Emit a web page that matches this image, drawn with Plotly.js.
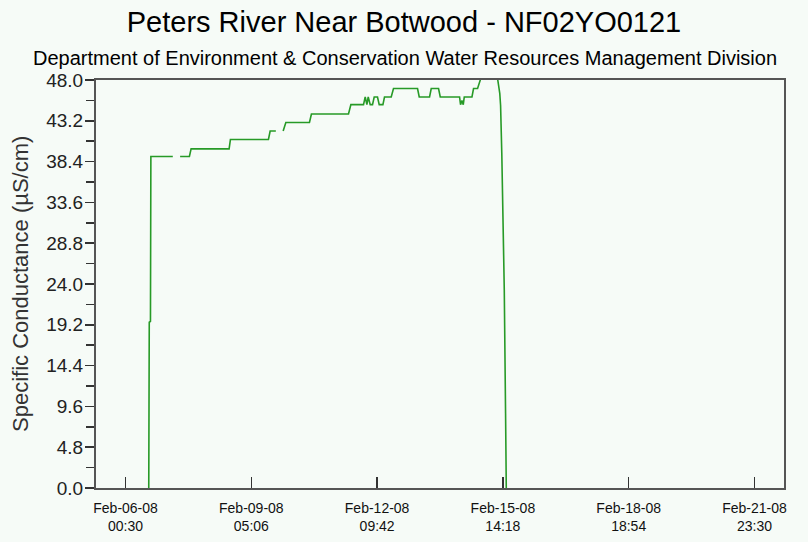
<!DOCTYPE html>
<html>
<head>
<meta charset="utf-8">
<script src="https://cdn.plot.ly/plotly-3.0.1.min.js"></script>
<style>
html,body{margin:0;padding:0;background:#f6fbf7;}
#chart{width:808px;height:542px;}
</style>
</head>
<body>
<div id="chart"></div>
<script>
// Sample times and specific conductance readings (µS/cm); null marks missing data
var times = [
  "2008-02-06 14:38","2008-02-06 14:56","2008-02-06 15:40","2008-02-06 15:55",
  "2008-02-07 05:16","2008-02-07 07:00","2008-02-07 09:43","2008-02-07 15:23",
  "2008-02-07 16:25","2008-02-08 15:34","2008-02-08 16:22","2008-02-09 15:31",
  "2008-02-09 16:34","2008-02-09 20:02","2008-02-09 22:00","2008-02-10 00:29",
  "2008-02-10 02:07","2008-02-10 16:30","2008-02-10 17:42","2008-02-11 16:16",
  "2008-02-11 17:44","2008-02-12 01:25","2008-02-12 02:27","2008-02-12 03:29",
  "2008-02-12 04:17","2008-02-12 05:30","2008-02-12 06:54","2008-02-12 07:56",
  "2008-02-12 09:56","2008-02-12 10:59","2008-02-12 13:14","2008-02-12 14:12",
  "2008-02-12 18:17","2008-02-12 19:41","2008-02-13 10:19","2008-02-13 11:21",
  "2008-02-13 17:38","2008-02-13 18:40","2008-02-13 23:07","2008-02-14 00:09",
  "2008-02-14 11:55","2008-02-14 12:31","2008-02-14 13:22","2008-02-14 14:10",
  "2008-02-14 14:47","2008-02-14 19:28","2008-02-14 20:26","2008-02-14 22:53",
  "2008-02-15 00:32","2008-02-15 02:58","2008-02-15 06:38","2008-02-15 10:17",
  "2008-02-15 11:11","2008-02-15 12:25","2008-02-15 12:54","2008-02-15 13:38",
  "2008-02-15 14:22","2008-02-15 15:09","2008-02-15 15:56","2008-02-15 16:22"
];
var conductance = [
  0, 19.5, 19.6, 39.0,
  39.0, null, 39.0, 39.0,
  39.9, 39.9, 41.0, 41.0,
  42.0, 42.0, null, 42.0,
  43.0, 43.0, 44.0, 44.0,
  45.1, 45.1, 46.0, 45.1,
  46.0, 45.1, 45.1, 46.0,
  46.0, 45.1, 45.1, 46.0,
  46.0, 47.0, 47.0, 46.0,
  46.0, 47.0, 47.0, 46.0,
  46.0, 45.1, 45.6, 45.1,
  46.0, 46.0, 47.0, 47.0,
  48.0, 49.0, 49.5, 48.8,
  48.0, 46.4, 45.0, 39.4,
  31.9, 23.3, 8.8, 0
];
var xTickVals = ["2008-02-06 00:30","2008-02-09 05:06","2008-02-12 09:42","2008-02-15 14:18","2008-02-18 18:54","2008-02-21 23:30"];
var xTickText = ["Feb-06-08<br>00:30","Feb-09-08<br>05:06","Feb-12-08<br>09:42","Feb-15-08<br>14:18","Feb-18-08<br>18:54","Feb-21-08<br>23:30"];
var yTickVals = [0, 4.8, 9.6, 14.4, 19.2, 24.0, 28.8, 33.6, 38.4, 43.2, 48.0];
var yTickText = ["0.0","4.8","9.6","14.4","19.2","24.0","28.8","33.6","38.4","43.2","48.0"];
var xRange = ["2008-02-05 06:30","2008-02-22 17:30"];
var yRange = [0, 48];
var titleText = "Peters River Near Botwood - NF02YO0121";
var subtitleText = "Department of Environment &amp; Conservation Water Resources Management Division";
var yTitleText = "Specific Conductance (µS/cm)";

var FONT = "Liberation Sans, Arial, sans-serif";
var bg = "#f6fbf7";

var trace = {
  x: times, y: conductance, type: "scatter", mode: "lines",
  line: {color: "#279a27", width: 1.6},
  connectgaps: false, hoverinfo: "skip"
};

var layout = {
  width: 808, height: 542,
  margin: {l: 96, r: 24, t: 80, b: 54, pad: 0},
  paper_bgcolor: bg, plot_bgcolor: bg,
  showlegend: false,
  title: {
    text: titleText, xref: "container", x: 0.5, xanchor: "center",
    yref: "container", y: 1 - 22/542, yanchor: "middle",
    font: {family: FONT, size: 29, color: "#000"}
  },
  xaxis: {
    type: "date", range: xRange,
    tickmode: "array", tickvals: xTickVals, ticktext: xTickText,
    ticks: "inside", ticklen: 11, tickwidth: 1.5, tickcolor: "#333",
    ticklabelstandoff: 6,
    showline: true, linecolor: "#555", linewidth: 2, mirror: true,
    showgrid: false, zeroline: false,
    tickfont: {family: FONT, size: 14, color: "#111"}
  },
  yaxis: {
    range: yRange,
    tickmode: "array", tickvals: yTickVals, ticktext: yTickText,
    ticks: "outside", ticklen: 9, tickwidth: 1.5, tickcolor: "#333",
    ticklabelstandoff: -2,
    minor: {dtick: 2.4, tick0: 0, ticks: "outside", ticklen: 8, tickwidth: 1.5, tickcolor: "#333", showgrid: false},
    showline: true, linecolor: "#555", linewidth: 2, mirror: true,
    showgrid: false, zeroline: false,
    tickfont: {family: FONT, size: 19, color: "#222"}
  },
  annotations: [
    {text: subtitleText, xref: "paper", yref: "paper",
     x: (405 - 96) / 688, y: (488 - 58) / 408, xanchor: "center", yanchor: "middle",
     showarrow: false, font: {family: FONT, size: 20, color: "#000"}},
    {text: yTitleText, xref: "paper", yref: "paper",
     x: (20 - 96) / 688, y: (488 - 284) / 408, xanchor: "center", yanchor: "middle", textangle: -90,
     showarrow: false, font: {family: FONT, size: 22, color: "#333"}}
  ]
};

Plotly.newPlot("chart", [trace], layout, {staticPlot: true, displayModeBar: false});
</script>
</body>
</html>
